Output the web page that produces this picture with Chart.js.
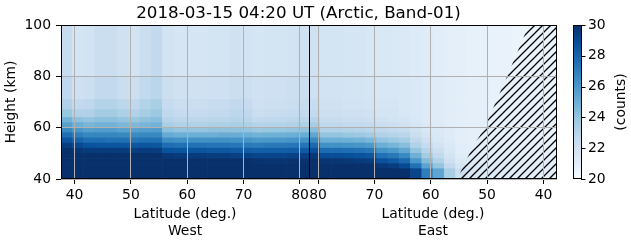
<!DOCTYPE html>
<html>
<head>
<meta charset="utf-8">
<script src="https://cdn.jsdelivr.net/npm/chart.js@4.4.1/dist/chart.umd.min.js"></script>
<style>
  html, body { margin: 0; padding: 0; background: #fff; }
  #wrap { width: 631px; height: 243px; }
</style>
</head>
<body>
<div id="wrap"><canvas id="chart" width="631" height="243"></canvas></div>
<script>
// ==========================================
//  ARCTIC BAND-01 HEIGHT / LATITUDE MAP
// ==========================================

// --- data -------------------------------------------------------
// latitude of each 2-degree column centre
var WEST_LAT = [38.6, 40.6, 42.6, 44.6, 46.6, 48.6, 50.6, 52.6, 54.6, 56.6, 58.6,
                60.6, 62.6, 64.6, 66.6, 68.6, 70.6, 72.6, 74.6, 76.6, 78.6, 80.6];
var EAST_LAT = [80.6, 78.6, 76.6, 74.6, 72.6, 70.6, 68.6, 66.6, 64.6, 62.6, 60.6,
                58.6, 56.6, 54.6, 52.6, 50.6, 48.6, 46.6, 44.6, 42.6, 40.6, 38.6];
var WEST_MIN_LAT = 37.6;
var SPLIT_LAT    = 81.6;

// height bands (km)
var HEIGHT_EDGES = [40, 44, 46, 48, 50, 52, 54, 56, 58, 60, 62, 64, 67, 71, 80, 100];

// counts per band: 22 West columns, then 22 East columns
var C40 = [30,30,30,30,30,30,30,30,30,30,30,30,30,30,30,30,30,30,30,30,30,30,
           30,30,30,30,30,30,30,30,30,29.2,27.0,25.4,23.4,22.2,21.6,21.4,21.3,21.2,21.1,21.1,21.0,21.0];
var C44 = [30,30,30,30,30,30,30,30,30,30,30,30,30,30,30,30,30,30,30,30,30,30,
           30,30,30,30,30,30,29.7,29.5,29.0,27.5,25.5,24.0,22.6,21.7,21.4,21.3,21.2,21.2,21.0,21.0,21.0,21.0];
var C46 = [30,30,30,30,30,30,30,30,30,30,30,30,30,30,30,30,30,29.9,29.8,29.8,29.9,29.9,
           30,29.8,29.8,29.7,29.6,29.5,28.7,28.4,27.8,26.0,24.4,23.2,22.1,21.4,21.3,21.2,21.1,21.1,21.0,20.9,20.9,20.9];
var C48 = [30,30,30,30,30,30,30,30,30,29.7,29.6,29.6,29.6,29.5,29.5,29.4,29.3,29.2,29.2,29.2,29.3,29.4,
           29.7,28.9,28.9,28.8,28.7,28.5,27.5,27.2,26.5,24.9,23.6,22.6,21.8,21.2,21.2,21.1,21.0,21.0,20.9,20.8,20.8,20.8];
var C50 = [30,29.8,29.6,29.6,29.6,29.6,29.5,29.6,29.5,28.7,28.6,28.6,28.6,28.5,28.5,28.4,28.3,28.2,28.2,28.2,28.3,28.4,
           28.8,27.7,27.7,27.6,27.5,27.3,26.2,25.9,25.3,24.0,23.0,22.2,21.5,21.1,21.1,21.0,20.9,20.9,20.8,20.8,20.8,20.8];
var C52 = [29.5,29.0,28.7,28.6,28.6,28.6,28.5,28.6,28.5,27.6,27.5,27.5,27.5,27.4,27.4,27.3,27.2,27.1,27.2,27.2,27.3,27.4,
           27.8,26.3,26.3,26.2,26.1,25.9,25.0,24.7,24.3,23.2,22.5,21.9,21.4,21.1,21.0,21.0,20.9,20.9,20.8,20.7,20.7,20.7];
var C54 = [28.6,28.0,27.6,27.6,27.5,27.5,27.4,27.5,27.5,26.4,26.3,26.3,26.3,26.3,26.3,26.2,26.1,25.9,26.0,26.0,26.1,26.2,
           26.6,25.0,25.0,24.9,24.8,24.6,24.0,23.8,23.5,22.7,22.1,21.6,21.3,21.0,20.9,20.9,20.8,20.8,20.7,20.7,20.7,20.6];
var C56 = [27.6,27.0,26.7,26.7,26.7,26.6,26.5,26.6,26.6,25.2,25.0,25.0,25.0,25.0,25.1,25.1,25.0,24.8,24.9,24.9,25.0,25.1,
           25.4,24.0,24.0,23.9,23.8,23.6,23.2,23.0,22.9,22.3,21.8,21.5,21.2,21.0,20.9,20.9,20.8,20.8,20.7,20.7,20.7,20.6];
var C58 = [26.6,26.0,25.7,25.8,25.8,25.6,25.6,25.7,25.8,24.2,24.0,24.0,24.0,24.1,24.1,24.1,24.0,23.8,23.9,23.9,24.0,24.1,
           24.3,23.2,23.2,23.1,23.0,22.9,22.7,22.6,22.4,22.0,21.6,21.4,21.2,21.0,20.9,20.9,20.8,20.8,20.7,20.7,20.7,20.6];
var C60 = [25.6,25.0,24.7,24.8,24.8,24.6,24.5,24.7,24.8,23.4,23.2,23.2,23.2,23.3,23.3,23.4,23.3,23.0,23.1,23.1,23.2,23.3,
           23.5,22.7,22.7,22.6,22.6,22.5,22.3,22.2,22.0,21.7,21.4,21.3,21.1,21.0,20.9,20.9,20.8,20.8,20.7,20.7,20.7,20.6];
var C62 = [24.8,24.2,24.0,24.2,24.2,24.0,23.9,24.1,24.3,23.0,22.8,22.8,22.8,22.9,22.9,23.0,22.9,22.6,22.7,22.7,22.8,22.9,
           23.0,22.4,22.4,22.3,22.3,22.2,22.0,21.9,21.8,21.5,21.3,21.2,21.1,21.0,20.9,20.9,20.8,20.8,20.7,20.7,20.7,20.6];
var C64 = [23.9,23.2,23.2,23.6,23.6,23.3,23.2,23.5,23.8,22.7,22.5,22.5,22.5,22.6,22.6,22.8,22.7,22.3,22.4,22.4,22.5,22.6,
           22.6,22.2,22.2,22.1,22.1,22.0,21.8,21.8,21.6,21.4,21.3,21.2,21.1,21.0,20.9,20.9,20.8,20.8,20.7,20.7,20.7,20.6];
var C67 = [23.2,22.6,22.7,23.1,23.1,22.8,22.7,23.1,23.4,22.5,22.3,22.3,22.3,22.4,22.4,22.6,22.5,22.1,22.2,22.2,22.3,22.4,
           22.4,22.0,22.0,21.9,21.9,21.8,21.7,21.7,21.5,21.4,21.3,21.2,21.1,21.0,20.9,20.9,20.8,20.8,20.7,20.7,20.7,20.6];
var C71 = [22.7,22.1,22.2,22.6,22.6,22.3,22.2,22.6,22.9,22.2,22.0,22.0,22.0,22.1,22.1,22.3,22.2,22.0,22.1,22.1,22.2,22.3,
           22.1,21.9,21.9,21.8,21.8,21.7,21.6,21.6,21.5,21.4,21.3,21.2,21.1,21.0,20.9,20.9,20.8,20.8,20.7,20.7,20.7,20.6];
var C80 = [22.4,21.8,21.9,22.3,22.3,22.0,21.9,22.3,22.6,21.9,21.7,21.7,21.7,21.8,21.8,22.0,21.9,21.7,21.8,21.8,21.9,22.0,
           22.0,21.8,21.8,21.7,21.7,21.6,21.5,21.5,21.4,21.3,21.2,21.1,21.0,20.9,20.8,20.8,20.7,20.7,20.6,20.6,20.6,20.5];
var ROWS = [C40, C44, C46, C48, C50, C52, C54, C56, C58, C60, C62, C64, C67, C71, C80];

// hatched (masked) area on the East side: boundary in latitude / height
var MASK_LAT    = [55.3, 52.7, 50.5, 49.1, 46.5, 44.5, 42.6, 37.6];
var MASK_HEIGHT = [40, 51.9, 59.7, 66.8, 79.7, 90.2, 100, 100];

var TICK_LAT_WEST = [40, 50, 60, 70, 80];
var TICK_LAT_EAST = [80, 70, 60, 50, 40];
var Y_TICKS       = [40, 60, 80, 100];
var CBAR_TICKS    = [20, 22, 24, 26, 28, 30];
var CBAR_MIN = 20, CBAR_MAX = 30;

// --- helpers ----------------------------------------------------
var BLUES = ['#f7fbff', '#deebf7', '#c6dbef', '#9ecae1', '#6baed6',
             '#4292c6', '#2171b5', '#08519c', '#08306b'];
var FONT  = '"DejaVu Sans", sans-serif';
var SPLIT_U = SPLIT_LAT - WEST_MIN_LAT;

function westU(lat) { return lat - WEST_MIN_LAT; }
function eastU(lat) { return SPLIT_U + (SPLIT_LAT - lat); }

function hexRgb(h) {
  return [parseInt(h.substr(1, 2), 16), parseInt(h.substr(3, 2), 16), parseInt(h.substr(5, 2), 16)];
}
var BLUES_RGB = BLUES.map(hexRgb);

function blues(v) {
  var t = Math.min(1, Math.max(0, (v - CBAR_MIN) / (CBAR_MAX - CBAR_MIN))) * (BLUES.length - 1);
  var i = Math.min(BLUES.length - 2, Math.floor(t));
  var f = t - i;
  var a = BLUES_RGB[i], b = BLUES_RGB[i + 1];
  return 'rgb(' + Math.round(a[0] + (b[0] - a[0]) * f) + ',' +
                  Math.round(a[1] + (b[1] - a[1]) * f) + ',' +
                  Math.round(a[2] + (b[2] - a[2]) * f) + ')';
}

function hatchPattern() {
  var c = document.createElement('canvas');
  c.width = 8; c.height = 8;
  var g = c.getContext('2d');
  g.strokeStyle = '#000';
  g.lineWidth = 1.3;
  g.beginPath();
  g.moveTo(0, 8);  g.lineTo(8, 0);
  g.moveTo(-1, 1); g.lineTo(1, -1);
  g.moveTo(7, 9);  g.lineTo(9, 7);
  g.stroke();
  return g.createPattern(c, 'repeat');
}

// --- datasets ---------------------------------------------------
var COL_U = WEST_LAT.map(westU).concat(EAST_LAT.map(eastU));

var datasets = ROWS.map(function (row, r) {
  return {
    type: 'bar',
    data: row.map(function (v, i) {
      return { x: COL_U[i], y: [HEIGHT_EDGES[r], HEIGHT_EDGES[r + 1]] };
    }),
    backgroundColor: row.map(blues),
    borderWidth: 0,
    barPercentage: 1,
    categoryPercentage: 1,
    grouped: false,
    order: 2
  };
});

datasets.push({
  type: 'line',
  data: MASK_LAT.map(function (lat, i) { return { x: eastU(lat), y: MASK_HEIGHT[i] }; }),
  borderColor: 'rgba(0,0,0,0)',
  borderWidth: 0,
  backgroundColor: hatchPattern(),
  fill: 'start',
  pointRadius: 0,
  tension: 0,
  order: 1
});

var X_TICK_U = TICK_LAT_WEST.map(westU).concat(TICK_LAT_EAST.map(eastU));
var X_TICK_LABELS = TICK_LAT_WEST.concat(TICK_LAT_EAST).map(String);

// --- decorations: frame, split line, colorbar, titles -----------
var decorations = {
  id: 'decorations',
  afterDraw: function (chart) {
    var ctx = chart.ctx, a = chart.chartArea, x = chart.scales.x, cb = chart.scales.cb;
    ctx.save();

    ctx.strokeStyle = '#000';
    ctx.lineWidth = 1;
    ctx.strokeRect(a.left + 0.5, a.top + 0.5, a.right - a.left - 1, a.bottom - a.top - 1);

    // West / East join
    var sx = Math.round(x.getPixelForValue(SPLIT_U)) + 0.5;
    ctx.beginPath();
    ctx.moveTo(sx, a.top);
    ctx.lineTo(sx, a.bottom);
    ctx.stroke();

    // colorbar
    var yTop = cb.getPixelForValue(CBAR_MAX), yBot = cb.getPixelForValue(CBAR_MIN);
    var barL = a.right + 16, barW = 8;
    var grad = ctx.createLinearGradient(0, yBot, 0, yTop);
    BLUES.forEach(function (c, i) { grad.addColorStop(i / (BLUES.length - 1), c); });
    ctx.fillStyle = grad;
    ctx.fillRect(barL, yTop, barW, yBot - yTop);
    ctx.strokeRect(barL + 0.5, yTop + 0.5, barW, yBot - yTop - 1);
    ctx.beginPath();
    CBAR_TICKS.forEach(function (v) {
      var y = Math.round(cb.getPixelForValue(v)) + 0.5;
      ctx.moveTo(barL + barW, y);
      ctx.lineTo(barL + barW + 4.5, y);
    });
    ctx.stroke();

    ctx.fillStyle = '#000';
    ctx.font = '16.7px ' + FONT;
    ctx.textAlign = 'center';
    ctx.textBaseline = 'alphabetic';
    ctx.fillText('2018-03-15 04:20 UT (Arctic, Band-01)', 298.5, 18);

    ctx.font = '13.9px ' + FONT;
    ctx.textBaseline = 'middle';
    var wx = x.getPixelForValue(SPLIT_U / 2), ex = x.getPixelForValue(SPLIT_U * 1.5);
    ctx.fillText('Latitude (deg.)', wx, 214.5);
    ctx.fillText('West', wx, 231);
    ctx.fillText('Latitude (deg.)', ex, 214.5);
    ctx.fillText('East', ex, 231);

    ctx.translate(621, (yTop + yBot) / 2);
    ctx.rotate(-Math.PI / 2);
    ctx.fillText('(counts)', 0, 0);
    ctx.restore();
  }
};

// --- chart ------------------------------------------------------
Chart.defaults.font.family = FONT;
Chart.defaults.font.size = 13.9;
Chart.defaults.color = '#000';

var GRID = { color: '#b0b0b0', lineWidth: 1, offset: false, z: 1,
             tickColor: '#000', tickLength: 5, tickWidth: 1 };

function fitVertical(w) {
  return function (s) { s.width = w; s.paddingTop = 0; s.paddingBottom = 0; };
}

new Chart(document.getElementById('chart'), {
  type: 'bar',
  data: { datasets: datasets },
  plugins: [decorations],
  options: {
    responsive: false,
    animation: false,
    devicePixelRatio: 1,
    layout: { padding: { top: 25, left: 0, right: 0, bottom: 0 } },
    plugins: { legend: { display: false }, tooltip: { enabled: false } },
    scales: {
      x: {
        type: 'linear',
        min: 0,
        max: SPLIT_U * 2,
        offset: false,
        afterBuildTicks: function (s) { s.ticks = X_TICK_U.map(function (v) { return { value: v }; }); },
        afterFit: function (s) { s.height = 64; s.paddingLeft = 0; s.paddingRight = 0; },
        ticks: {
          autoSkip: false, maxRotation: 0, minRotation: 0, padding: 3,
          callback: function (v, i) { return X_TICK_LABELS[i]; }
        },
        grid: GRID,
        border: { display: false }
      },
      y: {
        type: 'linear',
        min: 40,
        max: 100,
        afterBuildTicks: function (s) { s.ticks = Y_TICKS.map(function (v) { return { value: v }; }); },
        afterFit: fitVertical(61),
        ticks: { padding: 5 },
        grid: GRID,
        border: { display: false },
        title: { display: true, text: 'Height (km)', padding: { top: 3.5, bottom: 0 } }
      },
      cb: {
        type: 'linear',
        position: 'right',
        min: CBAR_MIN,
        max: CBAR_MAX,
        afterBuildTicks: function (s) { s.ticks = CBAR_TICKS.map(function (v) { return { value: v }; }); },
        afterFit: fitVertical(74),
        ticks: { padding: 31 },
        grid: { display: false, drawOnChartArea: false, drawTicks: false },
        border: { display: false }
      }
    }
  }
});
</script>
</body>
</html>
